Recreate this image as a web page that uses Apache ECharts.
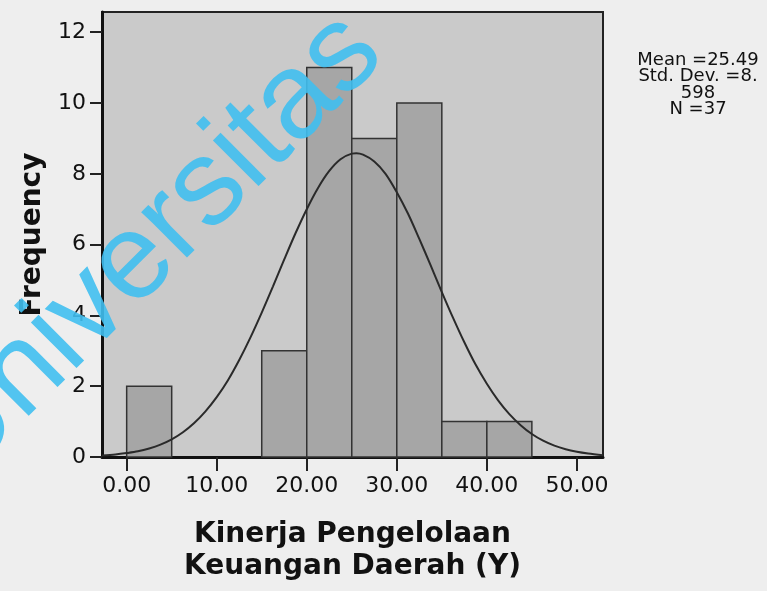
<!DOCTYPE html>
<html>
<head>
<meta charset="utf-8">
<script src="https://cdn.jsdelivr.net/npm/echarts@6/dist/echarts.min.js"></script>
<style>html,body{margin:0;padding:0;background:#eeeeee;}#c{width:767px;height:591px;}</style>
</head>
<body>
<div id="c"></div>
<script>
// Histogram bins (lower edge, upper edge) and frequencies
var binStart = [0, 15, 20, 25, 30, 35, 40];
var binEnd   = [5, 20, 25, 30, 35, 40, 45];
var freq     = [2, 3, 11, 9, 10, 1, 1];
// Normal curve
var curveX = [-2.75, -1.25, 0, 1.25, 2.5, 3.75, 5, 6.25, 7.5, 8.75, 10, 11.25, 12.5, 13.75, 15, 16.25, 17.5, 18.75, 20, 21.25, 22.5, 23.75, 25, 25.5, 26.25, 27.5, 28.75, 30, 31.25, 32.5, 33.75, 35, 36.25, 37.5, 38.75, 40, 41.25, 42.5, 43.75, 45, 46.25, 47.5, 48.75, 50, 51.25, 52.9];
var curveY = [0.04, 0.07, 0.11, 0.16, 0.24, 0.35, 0.50, 0.70, 0.96, 1.29, 1.69, 2.17, 2.74, 3.38, 4.08, 4.82, 5.58, 6.32, 7.00, 7.60, 8.08, 8.41, 8.57, 8.58, 8.54, 8.35, 8.00, 7.48, 6.87, 6.16, 5.42, 4.66, 3.93, 3.24, 2.61, 2.07, 1.60, 1.21, 0.90, 0.65, 0.46, 0.32, 0.22, 0.15, 0.10, 0.05];
var xTicks = [0, 10, 20, 30, 40, 50];
var yTicks = [0, 2, 4, 6, 8, 10, 12];
var statsLines = ['Mean =25.49', 'Std. Dev. =8.', '598', 'N =37'];
var xTitle = ['Kinerja Pengelolaan', 'Keuangan Daerah (Y)'];
var yTitle = 'Frequency';
var watermark = 'Universitas';

var barData = binStart.map(function (s, i) { return [s, binEnd[i], freq[i]]; });
var curveData = curveX.map(function (x, i) { return [x, curveY[i]]; });

var chart = echarts.init(document.getElementById('c'));
chart.setOption({
  backgroundColor: '#eeeeee',
  animation: false,
  grid: { left: 102, right: 164, top: 12, bottom: 134, show: true, backgroundColor: '#cacaca', borderColor: '#222', borderWidth: 2 },
  xAxis: {
    type: 'value', min: -2.74, max: 52.9,
    splitLine: { show: false },
    axisLine: { show: true, onZero: false, lineStyle: { color: '#111', width: 3 } },
    axisTick: { show: true, inside: false, length: 14, customValues: xTicks, lineStyle: { color: '#222', width: 2 } },
    axisLabel: { customValues: xTicks, margin: 18, color: '#111', fontFamily: 'DejaVu Sans', fontSize: 22,
      formatter: function (v) { return v.toFixed(2); } },
    name: xTitle.join('\n'), nameLocation: 'middle', nameGap: 62,
    nameTextStyle: { fontFamily: 'DejaVu Sans', fontWeight: 'bold', fontSize: 28, color: '#111', lineHeight: 32 }
  },
  yAxis: {
    type: 'value', min: 0, max: 12.57,
    splitLine: { show: false },
    axisLine: { show: true, onZero: false, lineStyle: { color: '#111', width: 3 } },
    axisTick: { show: true, inside: false, length: 12, customValues: yTicks, lineStyle: { color: '#222', width: 2 } },
    axisLabel: { customValues: yTicks, margin: 16, color: '#111', fontFamily: 'DejaVu Sans', fontSize: 22 },
    name: yTitle, nameLocation: 'middle', nameGap: 54,
    nameTextStyle: { fontFamily: 'DejaVu Sans', fontWeight: 'bold', fontSize: 28, color: '#111' }
  },
  graphic: [
    { type: 'text', x: 698, y: 52, z: 10,
      style: { text: statsLines.join('\n'), align: 'center', verticalAlign: 'top', fontFamily: 'DejaVu Sans', fontSize: 18, lineHeight: 16.5, fill: '#111' } },
    { type: 'text', x: 150, y: 247, rotation: 45 * Math.PI / 180, z: 100,
      style: { text: watermark, align: 'center', verticalAlign: 'middle', fontFamily: 'Liberation Sans', fontSize: 122, fill: '#40bff0', opacity: 0.9 } }
  ],
  series: [
    {
      type: 'custom',
      data: barData,
      encode: { x: [0, 1], y: 2 },
      renderItem: function (params, api) {
        var p0 = api.coord([api.value(0), api.value(2)]);
        var p1 = api.coord([api.value(1), 0]);
        return {
          type: 'rect',
          shape: { x: p0[0], y: p0[1], width: p1[0] - p0[0], height: p1[1] - p0[1] },
          style: { fill: '#a6a6a6', stroke: '#333', lineWidth: 1.5 }
        };
      },
      z: 2
    },
    {
      type: 'line', data: curveData, smooth: 0.3, symbol: 'none',
      lineStyle: { color: '#2a2a2a', width: 2 }, z: 3
    }
  ]
});
</script>
</body>
</html>
